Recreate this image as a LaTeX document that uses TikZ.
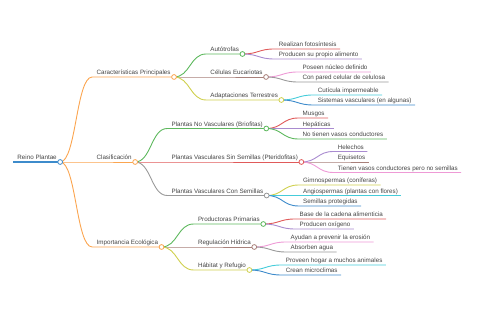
\documentclass[tikz,border=0pt]{standalone}
\usepackage{fontspec}
\setmainfont{Liberation Sans}
\usetikzlibrary{calc}
\definecolor{MyBlue}{HTML}{3D8BCB}
\definecolor{MyOrange}{HTML}{FBA550}
\definecolor{MyGreen}{HTML}{5DB85D}
\definecolor{MyRed}{HTML}{E05A5A}
\definecolor{MyPurple}{HTML}{A98BD0}
\definecolor{MyBrown}{HTML}{A8807A}
\definecolor{MyPink}{HTML}{EE9AD6}
\definecolor{MyGray}{HTML}{9A9A9A}
\definecolor{MyOlive}{HTML}{CFD04E}
\definecolor{MyCyan}{HTML}{45CCDA}
\definecolor{MyText}{HTML}{444444}
\begin{document}
\begin{tikzpicture}[x=1pt, y=-1pt, every node/.style={font=\fontsize{6.25}{7}\selectfont, text=MyText}, every path/.style={line width=0.9pt}, txt/.style={anchor=base west, inner sep=0pt, xshift=4pt, yshift=2pt}, knot/.style={fill=white, line width=0.8pt}]
	\useasboundingbox (0,0) rectangle (480,320);
	
	\coordinate (root-i) at (13,162);
	\node[txt] (root) at (root-i) {Reino Plantae};
	\draw[MyBlue, line width=1.2pt] (root-i) -- ([shift={(3pt,-2pt)}]root.base east) coordinate (root-o);
	%
	\foreach \n/\p/\dy/\col/\lab in {
		caract/root/-85/MyOrange/Características Principales,
		clasif/root/0/MyOrange/Clasificación,
		import/root/85/MyOrange/Importancia Ecológica,
		autot/caract/-23/MyGreen/Autótrofas,
		celul/caract/0/MyBrown/Células Eucariotas,
		adapt/caract/23/MyOlive/Adaptaciones Terrestres,
		novasc/clasif/-33.5/MyGreen/Plantas No Vasculares (Briofitas),
		sinsem/clasif/0/MyRed/Plantas Vasculares Sin Semillas (Pteridofitas),
		consem/clasif/33.5/MyGray/Plantas Vasculares Con Semillas,
		produc/import/-23/MyGreen/Productoras Primarias,
		regul/import/0/MyBrown/Regulación Hídrica,
		habit/import/23/MyOlive/Hábitat y Refugio}{
		\coordinate (\n-i) at ([shift={(32,\dy)}]\p-o);
		\node[txt] (\n) at (\n-i) {\lab};
		\draw[\col] (\p-o) .. controls +(16,0) and +(-16,0) .. (\n-i) -- ([shift={(3pt,-2pt)}]\n.base east) coordinate (\n-o);}
	%
	\foreach \p/\dy/\col/\lab [count=\k] in {
		autot/-5/MyRed/Realizan fotosíntesis,
		autot/5/MyPurple/Producen su propio alimento,
		celul/-5/MyPink/Poseen núcleo definido,
		celul/5/MyGray/Con pared celular de celulosa,
		adapt/-5/MyCyan/Cutícula impermeable,
		adapt/5/MyBlue/Sistemas vasculares (en algunas),
		novasc/-10.5/MyRed/Musgos,
		novasc/0/MyPurple/Hepáticas,
		novasc/10.5/MyGreen/No tienen vasos conductores,
		sinsem/-10.5/MyPurple/Helechos,
		sinsem/0/MyBrown/Equisetos,
		sinsem/10.5/MyPink/Tienen vasos conductores pero no semillas,
		consem/-10.5/MyOlive/Gimnospermas (coníferas),
		consem/0/MyCyan/Angiospermas (plantas con flores),
		consem/10.5/MyBlue/Semillas protegidas,
		produc/-5/MyRed/Base de la cadena alimenticia,
		produc/5/MyPurple/Producen oxígeno,
		regul/-5/MyPink/Ayudan a prevenir la erosión,
		regul/5/MyGray/Absorben agua,
		habit/-5/MyCyan/Proveen hogar a muchos animales,
		habit/5/MyBlue/Crean microclimas}{
		\coordinate (leaf\k-i) at ([shift={(32,\dy)}]\p-o);
		\node[txt] (leaf\k) at (leaf\k-i) {\lab};
		\draw[\col] (\p-o) .. controls +(16,0) and +(-16,0) .. (leaf\k-i) -- ([shift={(3pt,-2pt)}]leaf\k.base east);}
	%
	\foreach \n/\col in {root/MyBlue, caract/MyOrange, clasif/MyOrange, import/MyOrange, autot/MyGreen, celul/MyBrown, adapt/MyOlive, novasc/MyGreen, sinsem/MyRed, consem/MyGray, produc/MyGreen, regul/MyBrown, habit/MyOlive}
		\draw[\col, knot] (\n-o) circle (2.4pt);
\end{tikzpicture}
\end{document}
